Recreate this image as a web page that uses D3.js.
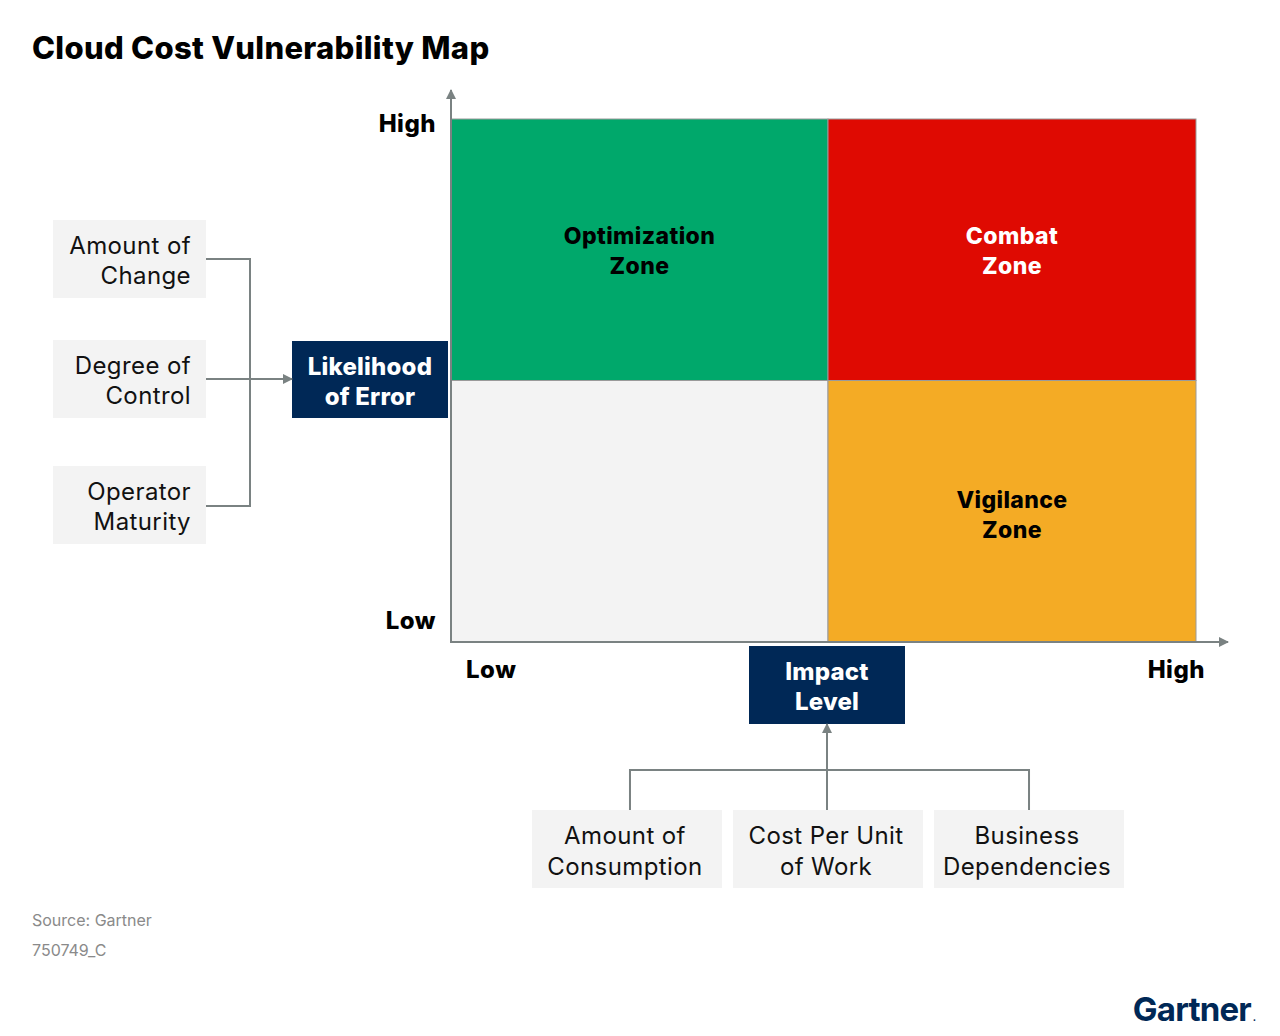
<!DOCTYPE html>
<head>
    <meta charset="utf-8">
    <title>Cloud Cost Vulnerability Map</title>
    <style>
        body { margin: 0; background: #fff; }
        svg { font-family: "Inter", "Roboto", sans-serif; }
    </style>
</head>
<body>
<svg width="1280" height="1036"></svg>

<script src="https://d3js.org/d3.v7.min.js"></script>

<script>

    // levels on both axes
    var levels = ["Low", "High"];

    // quadrants: impact level (x), likelihood (y), zone label
    var zoneImpact = ["Low", "High", "Low", "High"];
    var zoneLikelihood = ["High", "High", "Low", "Low"];
    var zoneNames = [["Optimization", "Zone"], ["Combat", "Zone"], ["", ""], ["Vigilance", "Zone"]];
    var zoneColors = ["#00a86b", "#df0a02", "#f3f3f3", "#f4ab25"];
    var zoneText = ["#000", "#fff", "#000", "#000"];

    // inputs feeding each axis
    var errorFactors = [["Amount of", "Change"], ["Degree of", "Control"], ["Operator", "Maturity"]];
    var impactFactors = [["Amount of", "Consumption"], ["Cost Per Unit", "of Work"], ["Business", "Dependencies"]];

    var svg = d3.select("svg");
    var axisColor = "#7a8282";
    var navy = "#002856";

    // quadrant edges (the split is a little right of centre)
    var x = d3.scaleOrdinal().domain(levels).range([451, 828]);
    var xEnd = 1196;
    var y = d3.scaleBand().domain(levels.slice().reverse()).range([119, 642]);
    function cellWidth(l) { var i = levels.indexOf(l); return (i < levels.length - 1 ? x(levels[i + 1]) : xEnd) - x(l); }

    // title
    svg.append("text")
        .attr("x", 32).attr("y", 59)
        .attr("font-size", 31).attr("font-weight", 800)
        .attr("letter-spacing", 0.3)
        .text("Cloud Cost Vulnerability Map");

    // arrow marker
    svg.append("defs").append("marker")
        .attr("id", "arrow")
        .attr("viewBox", "0 0 10 10")
        .attr("refX", 9).attr("refY", 5)
        .attr("markerWidth", 10).attr("markerHeight", 10)
        .attr("markerUnits", "userSpaceOnUse")
        .attr("orient", "auto")
        .append("path")
        .attr("d", "M0,0L10,5L0,10Z")
        .attr("fill", axisColor);

    // quadrants
    var zones = zoneImpact.map(function(d, i) {
        return { impact: d, likelihood: zoneLikelihood[i], name: zoneNames[i], color: zoneColors[i], text: zoneText[i] };
    });

    var cell = svg.append("g").selectAll("g")
        .data(zones)
        .enter().append("g");

    cell.append("rect")
        .attr("x", function(d) { return x(d.impact); })
        .attr("y", function(d) { return y(d.likelihood); })
        .attr("width", function(d) { return cellWidth(d.impact); })
        .attr("height", y.bandwidth())
        .attr("fill", function(d) { return d.color; })
        .attr("stroke", "#9a9a9a")
        .attr("stroke-width", 1);

    cell.each(function(d) {
        var cx = x(d.impact) + cellWidth(d.impact) / 2;
        var top = d.likelihood === "High" ? y(d.likelihood) + 125 : y(d.likelihood) + 127;
        d3.select(this).selectAll("text")
            .data(d.name)
            .enter().append("text")
            .attr("x", cx)
            .attr("y", function(t, j) { return top + j * 30; })
            .attr("text-anchor", "middle")
            .attr("font-size", 23).attr("font-weight", 800)
            .attr("letter-spacing", 0.4)
            .attr("fill", d.text)
            .text(function(t) { return t; });
    });

    // axes
    svg.append("line")
        .attr("x1", 451).attr("y1", 643).attr("x2", 451).attr("y2", 90)
        .attr("stroke", axisColor).attr("stroke-width", 2)
        .attr("marker-end", "url(#arrow)");
    svg.append("line")
        .attr("x1", 450).attr("y1", 642).attr("x2", 1228).attr("y2", 642)
        .attr("stroke", axisColor).attr("stroke-width", 2)
        .attr("marker-end", "url(#arrow)");

    // axis level labels
    function levelLabel(px, py, anchor, t) {
        svg.append("text").attr("x", px).attr("y", py).attr("text-anchor", anchor)
            .attr("font-size", 24).attr("font-weight", 800).attr("letter-spacing", 0.5).text(t);
    }
    levelLabel(436, 132, "end", levels[1]);
    levelLabel(436, 629, "end", levels[0]);
    levelLabel(466, 678, "start", levels[0]);
    levelLabel(1205, 678, "end", levels[1]);

    // navy label boxes
    function navyBox(x0, y0, w, h, lines) {
        svg.append("rect").attr("x", x0).attr("y", y0).attr("width", w).attr("height", h).attr("fill", navy);
        svg.selectAll(null).data(lines).enter().append("text")
            .attr("x", x0 + w / 2)
            .attr("y", function(t, j) { return y0 + 34 + j * 30; })
            .attr("text-anchor", "middle")
            .attr("font-size", 24).attr("font-weight", 800)
            .attr("letter-spacing", 0.2)
            .attr("fill", "#fff")
            .text(function(t) { return t; });
    }
    navyBox(292, 341, 156, 77, ["Likelihood", "of Error"]);
    navyBox(749, 646, 156, 78, ["Impact", "Level"]);

    // left factor boxes
    var leftY = d3.scaleOrdinal().domain(d3.range(errorFactors.length)).range([220, 340, 466]);
    var left = svg.append("g").selectAll("g").data(errorFactors).enter().append("g");
    left.append("rect")
        .attr("x", 53).attr("y", function(d, i) { return leftY(i); })
        .attr("width", 153).attr("height", 78).attr("fill", "#f3f3f3");
    left.each(function(d, i) {
        d3.select(this).selectAll("text").data(d).enter().append("text")
            .attr("x", 191)
            .attr("y", function(t, j) { return leftY(i) + 34 + j * 30; })
            .attr("text-anchor", "end")
            .attr("font-size", 24).attr("font-weight", 400)
            .attr("letter-spacing", 0.4)
            .attr("fill", "#111")
            .text(function(t) { return t; });
    });

    // left connectors
    var lg = svg.append("g").attr("fill", "none").attr("stroke", axisColor).attr("stroke-width", 2);
    var firstMid = leftY(0) + 39, lastMid = leftY(errorFactors.length - 1) + 40;
    lg.append("path").attr("d", "M206," + firstMid + "H250V" + lastMid + "H206");
    lg.append("line")
        .attr("x1", 206).attr("y1", 379).attr("x2", 292).attr("y2", 379)
        .attr("marker-end", "url(#arrow)");

    // bottom factor boxes
    var bx = d3.scaleBand().domain(d3.range(impactFactors.length)).range([532, 1124]).paddingInner(0.055);
    var bottom = svg.append("g").selectAll("g").data(impactFactors).enter().append("g");
    bottom.append("rect")
        .attr("x", function(d, i) { return bx(i); }).attr("y", 810)
        .attr("width", bx.bandwidth()).attr("height", 78).attr("fill", "#f3f3f3");
    bottom.each(function(d, i) {
        d3.select(this).selectAll("text").data(d).enter().append("text")
            .attr("x", bx(i) + bx.bandwidth() / 2 - 2)
            .attr("y", function(t, j) { return 844 + j * 31; })
            .attr("text-anchor", "middle")
            .attr("font-size", 24).attr("font-weight", 400)
            .attr("letter-spacing", 0.4)
            .attr("fill", "#111")
            .text(function(t) { return t; });
    });

    // bottom connectors
    var bg = svg.append("g").attr("fill", "none").attr("stroke", axisColor).attr("stroke-width", 2);
    var bLeft = bx(0) + bx.bandwidth() / 2 + 3;
    var bRight = bx(impactFactors.length - 1) + bx.bandwidth() / 2;
    bg.append("path").attr("d", "M" + bLeft + ",810V770H" + bRight + "V810");
    bg.append("line")
        .attr("x1", 827).attr("y1", 810).attr("x2", 827).attr("y2", 724)
        .attr("marker-end", "url(#arrow)");

    // footer
    svg.append("text").attr("x", 32).attr("y", 926)
        .attr("font-size", 16).attr("fill", "#8a8a8a").text("Source: Gartner");
    svg.append("text").attr("x", 32).attr("y", 956)
        .attr("font-size", 16).attr("fill", "#8a8a8a").text("750749_C");
    svg.append("text").attr("x", 1251).attr("y", 1021).attr("text-anchor", "end")
        .attr("font-size", 33).attr("font-weight", 700).attr("letter-spacing", -0.8)
        .attr("fill", navy).text("Gartner");
    svg.append("text").attr("x", 1256).attr("y", 1021).attr("text-anchor", "end")
        .attr("font-size", 10).attr("font-weight", 700)
        .attr("fill", navy).text(".");

</script>
</body>
